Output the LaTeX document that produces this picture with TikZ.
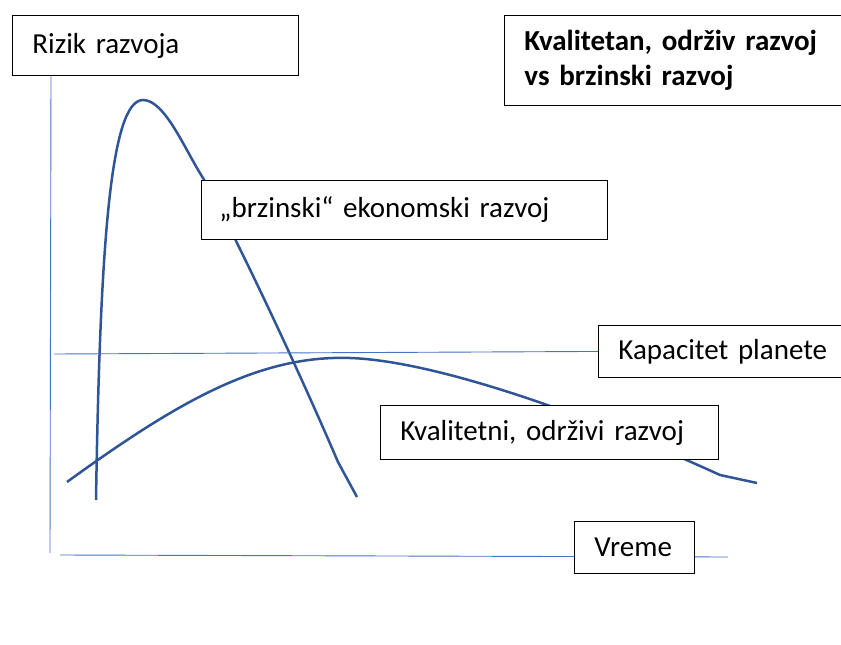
\documentclass[tikz,border=0pt]{standalone}
\usepackage{fontspec}
\setmainfont{Carlito}
\usepackage{xcolor}
\definecolor{axisblue}{HTML}{4472C4}
\definecolor{curveblue}{HTML}{2F5597}

\begin{document}
\begin{tikzpicture}[
    x=1pt,y=-1pt,
    labelbox/.style={draw=black,line width=0.9pt,fill=white,anchor=north west,
      inner xsep=20pt,inner ysep=0pt,align=left,
      font=\fontsize{29}{31}\selectfont},
    axis/.style={draw=axisblue,line width=0.9pt},
    curve/.style={draw=curveblue,line width=2.5pt},
  ]
  \clip (0,0) rectangle (841,645);

  % axes and capacity line
  \coordinate (ytop) at (51,75);
  \coordinate (ybot) at (50,553);
  \coordinate (xleft) at (60,555);
  \coordinate (xright) at (728,557);
  \coordinate (capleft) at (54,354);
  \draw[axis] (ytop) -- (ybot);
  \draw[axis] (xleft) -- (xright);

  % curves
  \draw[curve] (96,500) .. controls (100,250) and (110,100) .. (143,100)
    .. controls (165,100) and (185,150) .. (203,178)
    .. controls (225,215) and (290,350) .. (338,462) -- (357,497);
  \draw[curve] (67,482) .. controls (180,400) and (260,355) .. (350,358)
    .. controls (440,361) and (600,420) .. (720,475) -- (757,483);

  % boxes
  \node[labelbox,minimum width=286pt,minimum height=60pt,text width=246pt] (risk) at (12,15) {Rizik razvoja};
  \node[labelbox,minimum width=360pt,minimum height=90pt,text width=320pt,font=\fontsize{29}{35}\selectfont\bfseries] (title) at (504,15) {Kvalitetan, održiv razvoj\\vs brzinski razvoj};
  \node[labelbox,minimum width=406pt,minimum height=59pt,text width=370pt,inner xsep=18pt] (fast) at (201,180) {„brzinski“ ekonomski razvoj};
  \node[labelbox,minimum width=260pt,minimum height=52pt,text width=220pt] (cap) at (598,325) {Kapacitet planete};
  \node[labelbox,minimum width=338pt,minimum height=54pt,text width=298pt] (slow) at (380,405) {Kvalitetni, održivi razvoj};
  \node[labelbox,minimum width=120pt,minimum height=52pt,text width=80pt] (time) at (574,521) {Vreme};

  \draw[axis] (capleft) -- (cap.west);
\end{tikzpicture}
\end{document}
